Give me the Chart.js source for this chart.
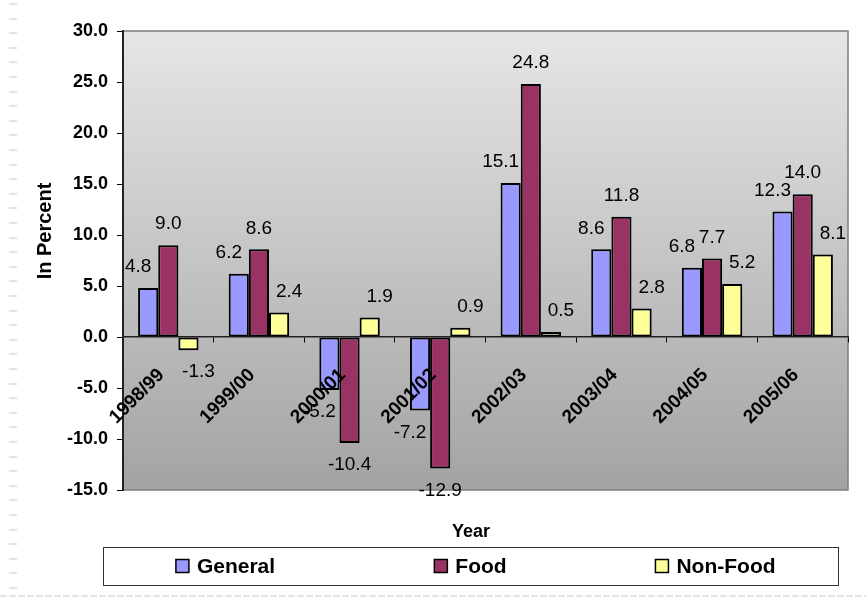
<!DOCTYPE html>
<html>
<head>
<meta charset="utf-8">
<script src="https://cdn.jsdelivr.net/npm/chart.js@4.4.1/dist/chart.umd.min.js"></script>
<style>
html, body { margin: 0; padding: 0; background: #fff; }
#wrap { width: 866px; height: 600px; }
</style>
</head>
<body>
<div id="wrap"><canvas id="grafico" width="866" height="600"></canvas></div>
<script>
// Datos
const years = ['1998/99', '1999/00', '2000/01', '2001/02', '2002/03', '2003/04', '2004/05', '2005/06'];
const general = [4.8, 6.2, -5.2, -7.2, 15.1, 8.6, 6.8, 12.3];
const food = [9.0, 8.6, -10.4, -12.9, 24.8, 11.8, 7.7, 14.0];
const nonFood = [-1.3, 2.4, 1.9, 0.9, 0.5, 2.8, 5.2, 8.1];
const seriesNames = ['General', 'Food', 'Non-Food'];
const yMin = -15, yMax = 30, yStep = 5;
const yTitle = 'In Percent';
const xTitle = 'Year';

const colores = ['#9999FF', '#993366', '#FFFF99'];
const labelShift = [-10, 0, 10];
const font = 'Arial, "Liberation Sans", sans-serif';

// fondo gris degradado del area del grafico + marcas de la pagina
const fondoPlugin = {
    id: 'fondo',
    beforeDraw(chart) {
        const { ctx, chartArea: a } = chart;
        ctx.save();
        ctx.fillStyle = '#e4e4e4';
        for (let y = 3; y < 592; y += 14.6) ctx.fillRect(9, Math.round(y), 8, 2);
        ctx.strokeStyle = '#e4e4e4';
        ctx.lineWidth = 2;
        ctx.setLineDash([7, 2]);
        ctx.beginPath();
        ctx.moveTo(0, 596);
        ctx.lineTo(866, 596);
        ctx.stroke();
        ctx.setLineDash([]);
        const g = ctx.createLinearGradient(0, a.top, 0, a.bottom);
        g.addColorStop(0, '#e6e6e6');
        g.addColorStop(1, '#a3a3a3');
        ctx.fillStyle = g;
        ctx.fillRect(a.left, a.top, a.right - a.left, a.bottom - a.top);
        ctx.strokeStyle = '#7f7f7f';
        ctx.lineWidth = 1.5;
        ctx.beginPath();
        ctx.moveTo(a.left, a.top);
        ctx.lineTo(a.right, a.top);
        ctx.lineTo(a.right, a.bottom);
        ctx.lineTo(a.left, a.bottom);
        ctx.stroke();
        ctx.restore();
    },
    afterDraw(chart) {
        const { ctx } = chart;
        ctx.save();
        // etiquetas de valores
        ctx.fillStyle = '#000';
        ctx.font = '19px ' + font;
        ctx.textAlign = 'center';
        ctx.textBaseline = 'middle';
        chart.data.datasets.forEach((ds, i) => {
            chart.getDatasetMeta(i).data.forEach((bar, j) => {
                const v = ds.data[j];
                const y = v >= 0 ? bar.y - 21 : bar.y + 22;
                ctx.fillText(v.toFixed(1), bar.x + labelShift[i], y);
            });
        });
        // titulo eje Y
        ctx.font = 'bold 20px ' + font;
        ctx.save();
        ctx.translate(45, 231);
        ctx.rotate(-Math.PI / 2);
        ctx.fillText(yTitle, 0, 0);
        ctx.restore();
        // titulo eje X
        ctx.font = 'bold 18px ' + font;
        ctx.fillText(xTitle, 471, 532);
        // leyenda
        const bx = 103, by = 547, bw = 735, bh = 38;
        ctx.strokeStyle = '#333';
        ctx.lineWidth = 1;
        ctx.strokeRect(bx + 0.5, by + 0.5, bw, bh);
        ctx.font = 'bold 21px ' + font;
        ctx.textAlign = 'left';
        const col = bw / chart.data.datasets.length;
        chart.data.datasets.forEach((ds, i) => {
            const tw = ctx.measureText(ds.label).width;
            const w = 13 + 8 + tw;
            const x0 = bx + col * i + (col - w) / 2;
            const cy = by + bh / 2;
            ctx.fillStyle = ds.backgroundColor;
            ctx.fillRect(x0, cy - 6.5, 13, 13);
            ctx.lineWidth = 1.5;
            ctx.strokeStyle = '#000';
            ctx.strokeRect(x0, cy - 6.5, 13, 13);
            ctx.fillStyle = '#000';
            ctx.fillText(ds.label, x0 + 21, cy + 1);
        });
        ctx.restore();
    }
};

const ctxGrafico = document.getElementById('grafico');
new Chart(ctxGrafico, {
    type: 'bar',
    data: {
        labels: years,
        datasets: [general, food, nonFood].map((serie, i) => ({
            label: seriesNames[i],
            data: serie,
            backgroundColor: colores[i],
            borderColor: '#000',
            borderWidth: 2,
            borderSkipped: false,
            categoryPercentage: 0.667,
            barPercentage: 1
        }))
    },
    options: {
        responsive: false,
        animation: false,
        devicePixelRatio: 1,
        layout: { padding: { top: 31, right: 18, bottom: 110, left: 0 } },
        plugins: {
            legend: { display: false },
            title: { display: false },
            tooltip: { enabled: false }
        },
        scales: {
            x: {
                position: { y: 0 },
                grid: { drawOnChartArea: false, color: '#000', tickLength: 5, offset: true },
                border: { color: '#222', width: 1.5 },
                ticks: {
                    z: 1,
                    color: '#000',
                    font: { family: font, size: 19, weight: 'bold' },
                    minRotation: 45,
                    maxRotation: 45,
                    padding: 22,
                    labelOffset: -7,
                    autoSkip: false
                }
            },
            y: {
                min: yMin,
                max: yMax,
                afterFit(scale) { scale.width = 123; },
                grid: { drawOnChartArea: false, color: '#000', tickLength: 6 },
                border: { color: '#222', width: 2 },
                ticks: {
                    stepSize: yStep,
                    color: '#000',
                    padding: 9,
                    font: { family: font, size: 18, weight: 'bold' },
                    callback: v => v.toFixed(1)
                }
            }
        }
    },
    plugins: [fondoPlugin]
});
</script>
</body>
</html>
